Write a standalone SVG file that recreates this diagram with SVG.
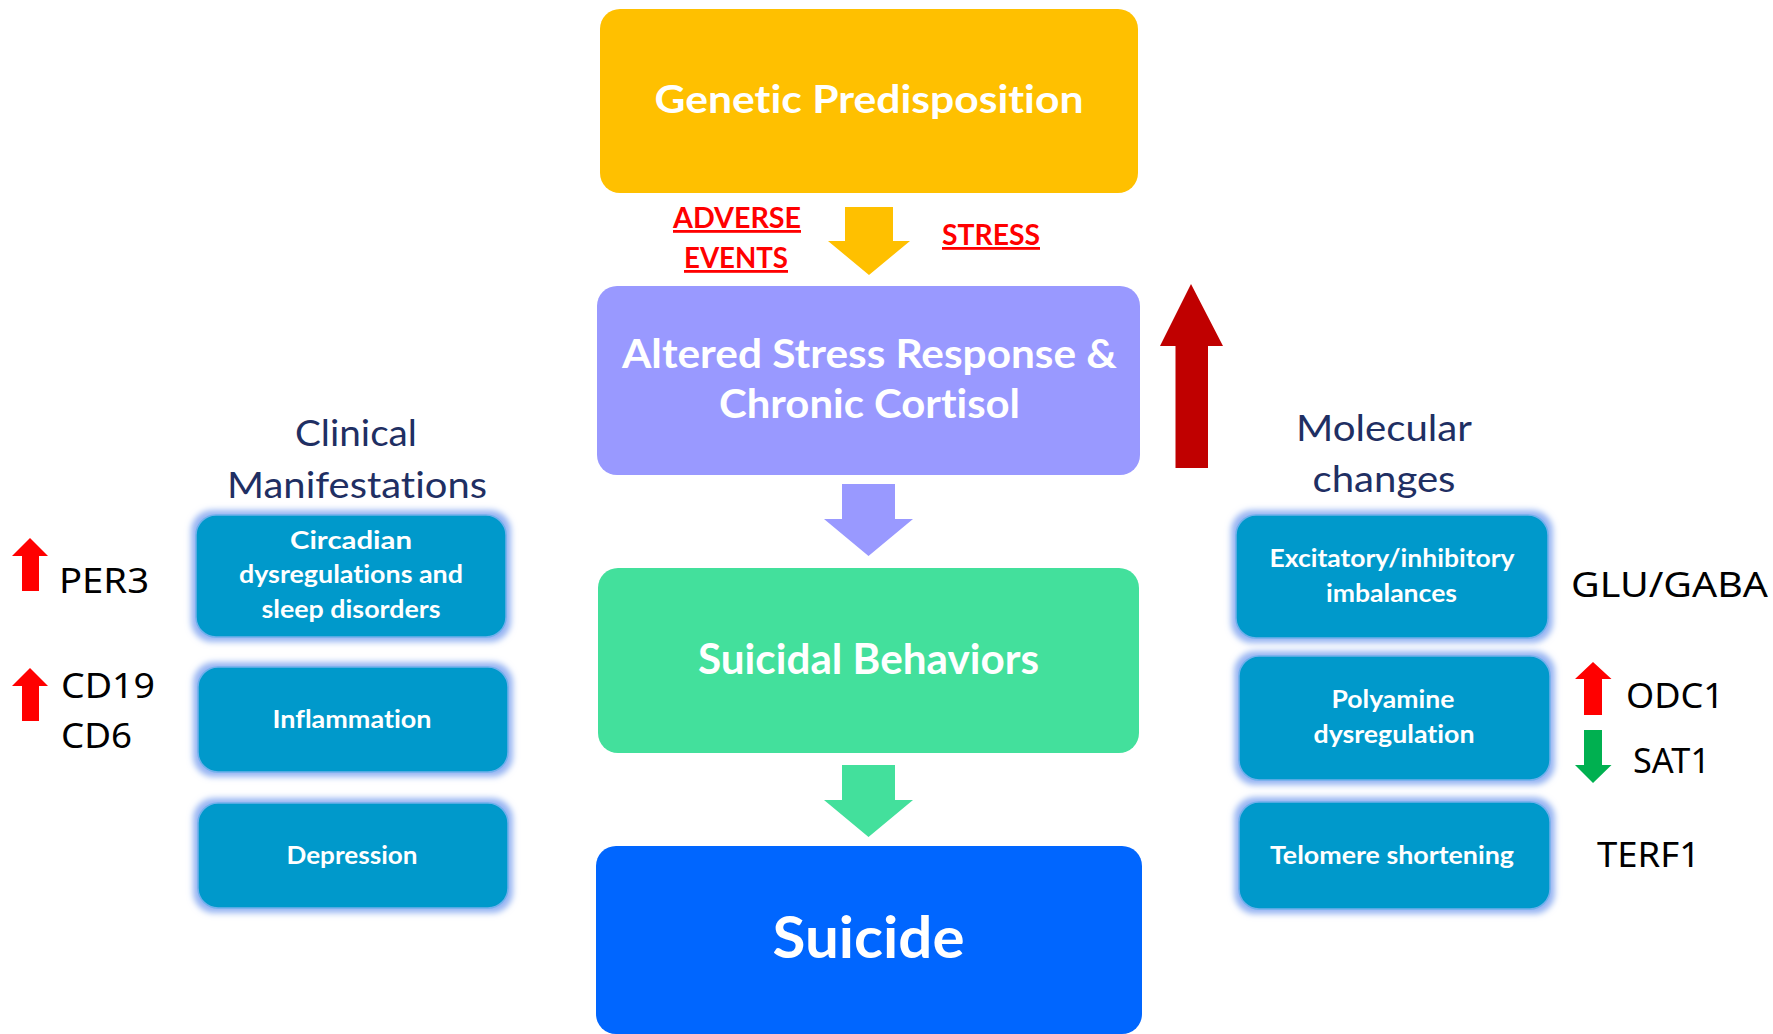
<svg xmlns="http://www.w3.org/2000/svg" width="1773" height="1034" viewBox="0 0 1773 1034">
  <defs>
    <style>
      text { font-variant-ligatures: none; }
      .main { font-family: Lato, "Open Sans", "Liberation Sans", sans-serif; font-weight: 700; fill: #ffffff; text-anchor: middle; }
      .sub { font-family: Lato, "Open Sans", "Liberation Sans", sans-serif; font-weight: 700; fill: #ffffff; text-anchor: middle; font-size: 24.5px; }
      .head { font-family: Lato, "Open Sans", "Liberation Sans", sans-serif; font-weight: 400; fill: #1F2F63; text-anchor: middle; font-size: 37px; }
      .gene { font-family: "Noto Sans", "DejaVu Sans", sans-serif; font-weight: 400; fill: #000000; font-size: 35px; }
      .event { font-family: Lato, "Open Sans", "Liberation Sans", sans-serif; font-weight: 700; fill: #FF0000; font-size: 28px; text-anchor: middle; text-decoration: underline; }
      .side { fill: #0399CB; stroke: #6FB0EC; stroke-width: 1.5; }
    </style>
    <!-- soft light-blue halo around the side boxes -->
    <filter id="glow" x="-10%" y="-20%" width="120%" height="140%">
      <feMorphology in="SourceAlpha" operator="dilate" radius="4" result="grown"/>
      <feGaussianBlur in="grown" stdDeviation="3" result="soft"/>
      <feFlood flood-color="#93B2F2"/>
      <feComposite in2="soft" operator="in" result="halo"/>
      <feMerge>
        <feMergeNode in="halo"/>
        <feMergeNode in="SourceGraphic"/>
      </feMerge>
    </filter>
  </defs>

  <rect width="1773" height="1034" fill="#ffffff"/>

  <!-- central pathway -->
  <g id="genetic-predisposition">
    <rect x="600" y="9" width="538" height="184" rx="20" fill="#FFC000"/>
    <text class="main" x="869" y="113" font-size="39" textLength="429" lengthAdjust="spacingAndGlyphs">Genetic Predisposition</text>
  </g>

  <g id="stress-response">
    <rect x="597" y="286" width="543" height="189" rx="20" fill="#9999FF"/>
    <text class="main" x="869.5" y="368" font-size="40" textLength="495" lengthAdjust="spacingAndGlyphs">Altered Stress Response &amp;</text>
    <text class="main" x="869.5" y="418" font-size="40" textLength="301" lengthAdjust="spacingAndGlyphs">Chronic Cortisol</text>
  </g>

  <g id="suicidal-behaviors">
    <rect x="598" y="568" width="541" height="185" rx="20" fill="#43E09C"/>
    <text class="main" x="868.5" y="674" font-size="42" textLength="341" lengthAdjust="spacingAndGlyphs">Suicidal Behaviors</text>
  </g>

  <g id="suicide">
    <rect x="596" y="846" width="546" height="188" rx="20" fill="#0066FF"/>
    <text class="main" x="868.5" y="958" font-size="58" textLength="192" lengthAdjust="spacingAndGlyphs">Suicide</text>
  </g>

  <!-- triggers -->
  <g id="adverse-events">
    <text class="event" x="737" y="228" textLength="128" lengthAdjust="spacingAndGlyphs">ADVERSE</text>
    <text class="event" x="736" y="268" textLength="104" lengthAdjust="spacingAndGlyphs">EVENTS</text>
  </g>
  <g id="stress">
    <text class="event" x="991" y="245" textLength="98" lengthAdjust="spacingAndGlyphs">STRESS</text>
  </g>

  <!-- flow arrows -->
  <g id="connectors">
    <polygon fill="#FFC000" points="845,207 893,207 893,241 910,241 869,275 828,241 845,241"/>
    <polygon fill="#9999FF" points="842,484 895,484 895,519 913,519 868.5,556 824,519 842,519"/>
    <polygon fill="#43E09C" points="842,765 895,765 895,800 913,800 868.5,837 824,800 842,800"/>
    <polygon fill="#C00000" points="1175.5,468 1208,468 1208,346 1223,346 1191,284 1160,346 1175.5,346"/>
  </g>

  <!-- clinical manifestations -->
  <g id="clinical-heading">
    <text class="head" x="356" y="446" textLength="122" lengthAdjust="spacingAndGlyphs">Clinical</text>
    <text class="head" x="357" y="498" textLength="260" lengthAdjust="spacingAndGlyphs">Manifestations</text>
  </g>

  <g id="circadian">
    <rect class="side" x="196" y="515" width="310" height="122" rx="20" filter="url(#glow)"/>
    <text class="sub" x="351" y="549" textLength="122" lengthAdjust="spacingAndGlyphs">Circadian</text>
    <text class="sub" x="351" y="583" textLength="224" lengthAdjust="spacingAndGlyphs">dysregulations and</text>
    <text class="sub" x="351" y="618" textLength="179" lengthAdjust="spacingAndGlyphs">sleep disorders</text>
  </g>

  <g id="inflammation">
    <rect class="side" x="198" y="667" width="310" height="105" rx="20" filter="url(#glow)"/>
    <text class="sub" x="352" y="728" textLength="159" lengthAdjust="spacingAndGlyphs">Inflammation</text>
  </g>

  <g id="depression">
    <rect class="side" x="198" y="803" width="310" height="105" rx="20" filter="url(#glow)"/>
    <text class="sub" x="352" y="864" textLength="131" lengthAdjust="spacingAndGlyphs">Depression</text>
  </g>

  <!-- molecular changes -->
  <g id="molecular-heading">
    <text class="head" x="1384" y="441" textLength="176" lengthAdjust="spacingAndGlyphs">Molecular</text>
    <text class="head" x="1384" y="492" textLength="143" lengthAdjust="spacingAndGlyphs">changes</text>
  </g>

  <g id="excitatory-inhibitory">
    <rect class="side" x="1236" y="515" width="312" height="123" rx="20" filter="url(#glow)"/>
    <text class="sub" x="1392" y="567" textLength="245" lengthAdjust="spacingAndGlyphs">Excitatory/inhibitory</text>
    <text class="sub" x="1391.5" y="602" textLength="131" lengthAdjust="spacingAndGlyphs">imbalances</text>
  </g>

  <g id="polyamine">
    <rect class="side" x="1239" y="656" width="311" height="124" rx="20" filter="url(#glow)"/>
    <text class="sub" x="1393" y="708" textLength="123" lengthAdjust="spacingAndGlyphs">Polyamine</text>
    <text class="sub" x="1394" y="743" textLength="161" lengthAdjust="spacingAndGlyphs">dysregulation</text>
  </g>

  <g id="telomere">
    <rect class="side" x="1239" y="802" width="311" height="107" rx="20" filter="url(#glow)"/>
    <text class="sub" x="1392" y="864" textLength="244" lengthAdjust="spacingAndGlyphs">Telomere shortening</text>
  </g>

  <!-- gene markers -->
  <g id="per3">
    <polygon fill="#FF0000" points="22,591 39,591 39,556 48,556 30,538 12,556 22,556"/>
    <text class="gene" x="59" y="593" textLength="90" lengthAdjust="spacingAndGlyphs">PER3</text>
  </g>
  <g id="cd19-cd6">
    <polygon fill="#FF0000" points="22,721 39,721 39,686 48,686 30,668 12,686 22,686"/>
    <text class="gene" x="61" y="698" textLength="94" lengthAdjust="spacingAndGlyphs">CD19</text>
    <text class="gene" x="61" y="748" textLength="71" lengthAdjust="spacingAndGlyphs">CD6</text>
  </g>
  <g id="glu-gaba">
    <text class="gene" x="1571" y="597" textLength="197" lengthAdjust="spacingAndGlyphs">GLU/GABA</text>
  </g>
  <g id="odc1">
    <polygon fill="#FF0000" points="1584,715 1602,715 1602,679 1611.5,679 1593,662 1575,679 1584,679"/>
    <text class="gene" x="1626" y="708" textLength="98" lengthAdjust="spacingAndGlyphs">ODC1</text>
  </g>
  <g id="sat1">
    <polygon fill="#00B050" points="1584,730 1602,730 1602,765 1611.5,765 1593,783 1575,765 1584,765"/>
    <text class="gene" x="1633" y="773" textLength="77" lengthAdjust="spacingAndGlyphs">SAT1</text>
  </g>
  <g id="terf1">
    <text class="gene" x="1597" y="867" textLength="103" lengthAdjust="spacingAndGlyphs">TERF1</text>
  </g>
</svg>
